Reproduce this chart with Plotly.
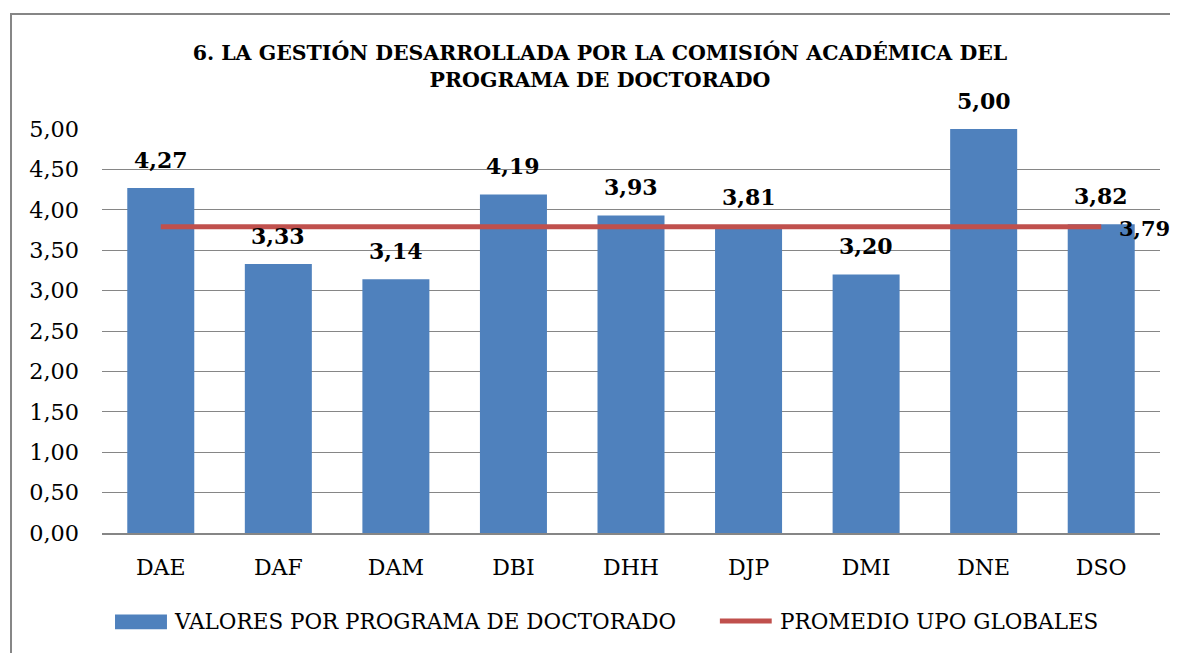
import plotly.graph_objects as go

programas = ["DAE", "DAF", "DAM", "DBI", "DHH", "DJP", "DMI", "DNE", "DSO"]
valores = [4.27, 3.33, 3.14, 4.19, 3.93, 3.81, 3.20, 5.00, 3.82]
promedio = 3.79

SERIE_BARRAS = "VALORES POR PROGRAMA DE DOCTORADO"
SERIE_LINEA = "PROMEDIO UPO GLOBALES"

BLUE = "#4F81BD"
RED = "#C0504D"
GRID = "#868686"
SERIF = "DejaVu Serif, Liberation Serif, serif"


def coma(v):
    return f"{v:.2f}".replace(".", ",")


fig = go.Figure()
fig.add_bar(
    x=programas, y=valores, name=SERIE_BARRAS,
    marker=dict(color=BLUE, line=dict(width=0)),
)
fig.add_scatter(
    x=programas, y=[promedio] * len(programas), name=SERIE_LINEA,
    mode="lines", line=dict(color=RED, width=5),
)

# etiquetas de valor sobre cada barra
for p, v in zip(programas, valores):
    fig.add_annotation(
        x=p, y=v, text=f"<b>{coma(v)}</b>", showarrow=False,
        yanchor="middle", yshift=28,
        font=dict(family=SERIF, size=22, color="black"),
    )
# etiqueta del promedio, a la derecha del final de la línea
fig.add_annotation(
    x=programas[-1], y=promedio, text=f"<b>{coma(promedio)}</b>", showarrow=False,
    xanchor="left", yanchor="middle", xshift=16, yshift=-2,
    font=dict(family=SERIF, size=21, color="black"),
)

# leyenda dibujada a mano (símbolos anchos como en el original)
leyenda_y = -0.218
fig.add_shape(type="rect", xref="paper", yref="paper",
              x0=0.0123, x1=0.0614, y0=-0.238, y1=-0.202,
              fillcolor=BLUE, line=dict(width=0))
fig.add_shape(type="line", xref="paper", yref="paper",
              x0=0.584, x1=0.633, y0=leyenda_y, y1=leyenda_y,
              line=dict(color=RED, width=5))
for x, txt in [(0.0662, SERIE_BARRAS), (0.639, SERIE_LINEA)]:
    fig.add_annotation(x=x, y=leyenda_y, xref="paper", yref="paper", text=txt,
                       showarrow=False, xanchor="left", yanchor="middle",
                       font=dict(family=SERIF, size=21.5, color="black"))

# marco del gráfico
fig.add_shape(type="rect", xref="paper", yref="paper",
              x0=-0.086, x1=1.1, y0=-0.5, y1=1.2847,
              line=dict(color=GRID, width=2))

fig.update_layout(
    width=1178, height=653,
    paper_bgcolor="white", plot_bgcolor="white",
    margin=dict(l=94, r=26, t=121, b=128),
    bargap=0.43,
    separators=",.",
    showlegend=False,
    font=dict(family=SERIF, size=22, color="black"),
    title=dict(
        text="<b>6. LA GESTIÓN DESARROLLADA POR LA COMISIÓN ACADÉMICA DEL<br>PROGRAMA DE DOCTORADO</b>",
        x=0.5025, xanchor="center", y=0.92, yanchor="middle",
        font=dict(family=SERIF, size=20.5, color="black"),
    ),
)
fig.update_yaxes(
    range=[0, 5], dtick=0.5, tickformat=".2f",
    showgrid=True, gridcolor=GRID, gridwidth=1, zeroline=False,
    showline=False, ticks="", ticklabelstandoff=22,
    tickfont=dict(size=22.4),
)
fig.update_xaxes(
    range=[-0.5, len(programas) - 0.5],
    showline=True, linecolor=GRID, linewidth=2, ticks="",
    ticklabelstandoff=14,
)

fig.write_html("out.html")
